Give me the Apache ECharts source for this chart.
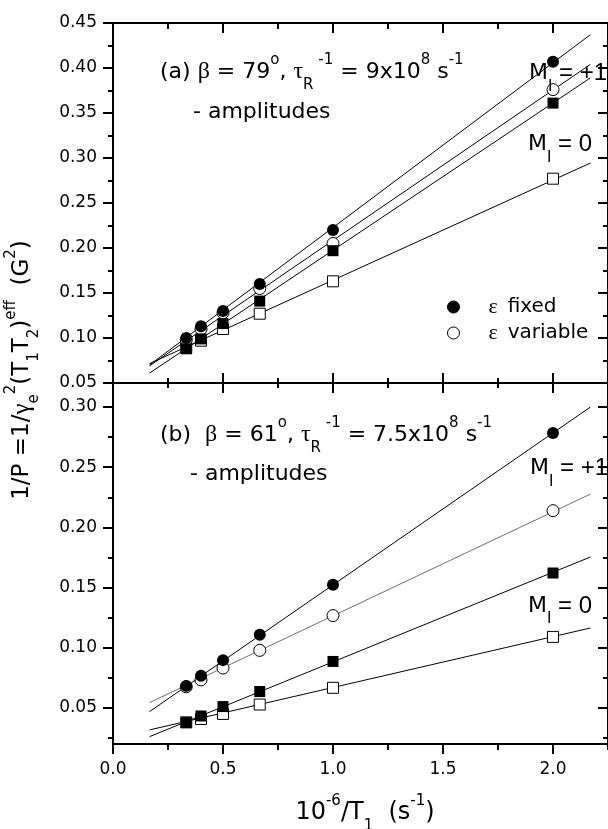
<!DOCTYPE html>
<html><head><meta charset="utf-8">
<script src="https://cdn.jsdelivr.net/npm/echarts@6/dist/echarts.min.js"></script>
<style>html,body{margin:0;padding:0;background:#fff;overflow:hidden}#c{width:608px;height:829px}</style>
</head><body><div id="c"></div>
<script>
// ---------- data ----------
const xVals = [0.333, 0.4, 0.5, 0.667, 1.0, 2.0];           // 10^-6/T1 (s^-1)
// panel (a)
const aFixedP1 = [0.100, 0.113, 0.130, 0.160, 0.220, 0.407]; // filled circles
const aVarP1   = [0.098, 0.110, 0.128, 0.155, 0.205, 0.376]; // open circles
const aFixed0  = [0.088, 0.099, 0.116, 0.141, 0.197, 0.361]; // filled squares
const aVar0    = [0.089, 0.097, 0.110, 0.127, 0.163, 0.277]; // open squares
const fitX = [0.166, 2.17];
const aFitFixedP1 = [0.070, 0.437];
const aFitVarP1   = [0.069, 0.404];
const aFitFixed0  = [0.061, 0.389];
const aFitVar0    = [0.0715, 0.2944];
// panel (b)
const bFixedP1 = [0.0683, 0.0767, 0.0897, 0.1108, 0.1524, 0.2784];
const bVarP1   = [0.0675, 0.0733, 0.0831, 0.0978, 0.1267, 0.2139];
const bFixed0  = [0.0378, 0.0433, 0.0511, 0.0636, 0.0886, 0.1621];
const bVar0    = [0.0380, 0.0408, 0.0450, 0.0528, 0.0667, 0.1090];
const bFitFixedP1 = [0.0469, 0.300];
const bFitVarP1   = [0.0544, 0.2277];
const bFitFixed0  = [0.0261, 0.1754];
const bFitVar0    = [0.0317, 0.1164];
// ticks
const xTicks = [0, 0.5, 1.0, 1.5, 2.0];
const xMinor = [0.25, 0.75, 1.25, 1.75, 2.25];
const yTicksA = [0.05, 0.10, 0.15, 0.20, 0.25, 0.30, 0.35, 0.40, 0.45];
const yMinorA = [0.075, 0.125, 0.175, 0.225, 0.275, 0.325, 0.375, 0.425];
const yTicksB = [0.05, 0.10, 0.15, 0.20, 0.25, 0.30];
const yMinorB = [0.025, 0.075, 0.125, 0.175, 0.225, 0.275];

// ---------- chart ----------
const FONT = 'DejaVu Sans';
const SERIF = 'Liberation Serif';
const chart = echarts.init(document.getElementById('c'), null, {renderer: 'canvas'});

function mk(gridIndex, position, min, max, vals, len, inside, lineShow, labelVals, fmt, margin) {
  return {
    type: 'value', gridIndex, position, min, max,
    axisLine: {show: lineShow, onZero: false, lineStyle: {color: '#000', width: 2}},
    axisTick: {show: true, inside, length: len, customValues: vals, lineStyle: {color: '#000', width: 2}},
    axisLabel: labelVals ? {show: true, customValues: labelVals, formatter: fmt, margin, color: '#000', fontSize: 17, fontFamily: FONT} : {show: false},
    splitLine: {show: false}, minorTick: {show: false}, minorSplitLine: {show: false}, silent: true
  };
}
const f1 = v => v.toFixed(1);
const f2 = v => v.toFixed(2);
const XR = [0, 2.25], YA = [0.05, 0.45], YB = [0.02, 0.32];

const xAxis = [
  mk(0, 'bottom', XR[0], XR[1], xTicks, 10, true, true),          // 0 data axis panel a
  mk(0, 'bottom', XR[0], XR[1], xMinor, 5, true, false),
  mk(0, 'top', XR[0], XR[1], xTicks, 10, true, true),
  mk(0, 'top', XR[0], XR[1], xMinor, 6, true, false),
  mk(1, 'bottom', XR[0], XR[1], xTicks, 10, false, true, xTicks, f1, 17),  // 4 data axis panel b
  mk(1, 'bottom', XR[0], XR[1], xMinor, 6, false, false),
  mk(1, 'top', XR[0], XR[1], xTicks, 10, true, true),
  mk(1, 'top', XR[0], XR[1], xMinor, 5, true, false)
];
const yAxis = [
  mk(0, 'left', YA[0], YA[1], yTicksA, 10, false, true, yTicksA, f2, 16),  // 0
  mk(0, 'left', YA[0], YA[1], yMinorA, 5, false, false),
  mk(0, 'right', YA[0], YA[1], yTicksA, 10, true, true),
  mk(0, 'right', YA[0], YA[1], yMinorA, 5, true, false),
  mk(1, 'left', YB[0], YB[1], yTicksB, 10, false, true, yTicksB, f2, 16),  // 4
  mk(1, 'left', YB[0], YB[1], yMinorB, 5, false, false),
  mk(1, 'right', YB[0], YB[1], yTicksB, 10, true, true),
  mk(1, 'right', YB[0], YB[1], yMinorB, 5, true, false)
];

function fit(name, ys, xi, yi, color) {
  return {type: 'line', name, xAxisIndex: xi, yAxisIndex: yi, data: fitX.map((x, i) => [x, ys[i]]),
    symbol: 'none', showSymbol: false, lineStyle: {color, width: 1}, silent: true, z: 2, animation: false};
}
function pts(name, ys, xi, yi, symbol, size, filled) {
  return {type: 'scatter', name, xAxisIndex: xi, yAxisIndex: yi, data: xVals.map((x, i) => [x, ys[i]]),
    symbol, symbolSize: size, itemStyle: {color: filled ? '#000' : '#fff', borderColor: '#000', borderWidth: filled ? 0 : 1, opacity: 1},
    z: 3, animation: false, silent: true};
}
const series = [
  fit('fa1', aFitFixedP1, 0, 0, '#000'), fit('fa2', aFitVarP1, 0, 0, '#000'),
  fit('fa3', aFitFixed0, 0, 0, '#000'), fit('fa4', aFitVar0, 0, 0, '#000'),
  pts('a open sq', aVar0, 0, 0, 'rect', 11, false),
  pts('ε variable', aVarP1, 0, 0, 'circle', 12, false),
  pts('a filled sq', aFixed0, 0, 0, 'rect', 11, true),
  pts('ε fixed', aFixedP1, 0, 0, 'circle', 12, true),
  fit('fb1', bFitFixedP1, 4, 4, '#000'), fit('fb2', bFitVarP1, 4, 4, '#6e6e6e'),
  fit('fb3', bFitFixed0, 4, 4, '#000'), fit('fb4', bFitVar0, 4, 4, '#000'),
  pts('b open sq', bVar0, 4, 4, 'rect', 11, false),
  pts('b open circ', bVarP1, 4, 4, 'circle', 12, false),
  pts('b filled sq', bFixed0, 4, 4, 'rect', 11, true),
  pts('b filled circ', bFixedP1, 4, 4, 'circle', 12, true)
];

function rich(fs, lh, ss) {
  return {
    n: {fontFamily: FONT, fontSize: fs, lineHeight: lh, fill: '#000'},
    m: {fontFamily: 'Liberation Sans', fontSize: fs + 2, lineHeight: lh, fill: '#000'},
    g: {fontFamily: SERIF, fontSize: fs + 2, lineHeight: lh, fill: '#000'},
    sp: {fontFamily: FONT, fontSize: ss, verticalAlign: 'top', padding: [2, 0, 0, 0], fill: '#000'},
    sb: {fontFamily: FONT, fontSize: ss, verticalAlign: 'bottom', fill: '#000'}
  };
}
function txt(x, y, text, fs, align, rot, ss, lh) {
  return {type: 'text', x, y, rotation: rot || 0, z: 10, silent: true,
    style: {text, align: align || 'left', verticalAlign: 'middle', fontFamily: FONT, fontSize: fs, fill: '#000', rich: rich(fs, lh || 42, ss || 15)}};
}

const option = {
  animation: false,
  backgroundColor: '#fff',
  grid: [
    {left: 113, top: 23, width: 502, height: 360, containLabel: false},
    {left: 113, top: 383, width: 502, height: 361, containLabel: false}
  ],
  xAxis, yAxis, series,
  legend: {
    show: true, left: 447, top: 296, orient: 'vertical', itemWidth: 12, itemHeight: 12, itemGap: 4,
    selectedMode: false, padding: 0,
    data: [{name: 'ε fixed', icon: 'circle'}, {name: 'ε variable', icon: 'circle'}],
    itemStyle: {borderColor: '#000', borderWidth: 1},
    formatter: n => n === 'ε fixed' ? '{e|ε}{t|fixed}' : '{e|ε}{t|variable}',
    textStyle: {rich: {
      e: {fontFamily: SERIF, fontSize: 22, lineHeight: 16, padding: [0, 10, 0, 24], color: '#000'},
      t: {fontFamily: FONT, fontSize: 20, lineHeight: 16, color: '#000'}
    }}
  },
  graphic: [
    txt(160, 72, '{n|(a) }{g|β}{n| = 79}{sp|o}{n|, }{g|τ}{sb|R}{sp| -1}{n| = 9x10}{sp|8}{n| s}{sp|-1}', 22),
    txt(193, 112, '{n|- amplitudes}', 22),
    txt(529, 73.5, '{n|M}{sb|I}{m| = +1}', 22),
    txt(528, 144.5, '{n|M}{sb|I}{m| = 0}', 22),
    txt(160, 435, '{n|(b)  }{g|β}{n| = 61}{sp|o}{n|, }{g|τ}{sb|R}{sp| -1}{n| = 7.5x10}{sp|8}{n| s}{sp|-1}', 22),
    txt(190, 474, '{n|- amplitudes}', 22),
    txt(530, 468.5, '{n|M}{sb|I}{m| = +1}', 22),
    txt(528, 606, '{n|M}{sb|I}{m| = 0}', 22),
    txt(365, 813, '{n|10}{sp|-6}{n|/T}{sb|1}{n|  (s}{sp|-1}{n|)}', 24, 'center', 0, 15, 42),
    txt(22, 370, '{n|1/P =1/}{g|γ}{sb|e}{sp|2}{n|(T}{sb|1}{n|T}{sb|2}{n|)}{sp|eff}{n|  (G}{sp|2}{n|)}', 23, 'center', Math.PI / 2, 15, 40)
  ]
};
chart.setOption(option);
</script>
</body></html>
